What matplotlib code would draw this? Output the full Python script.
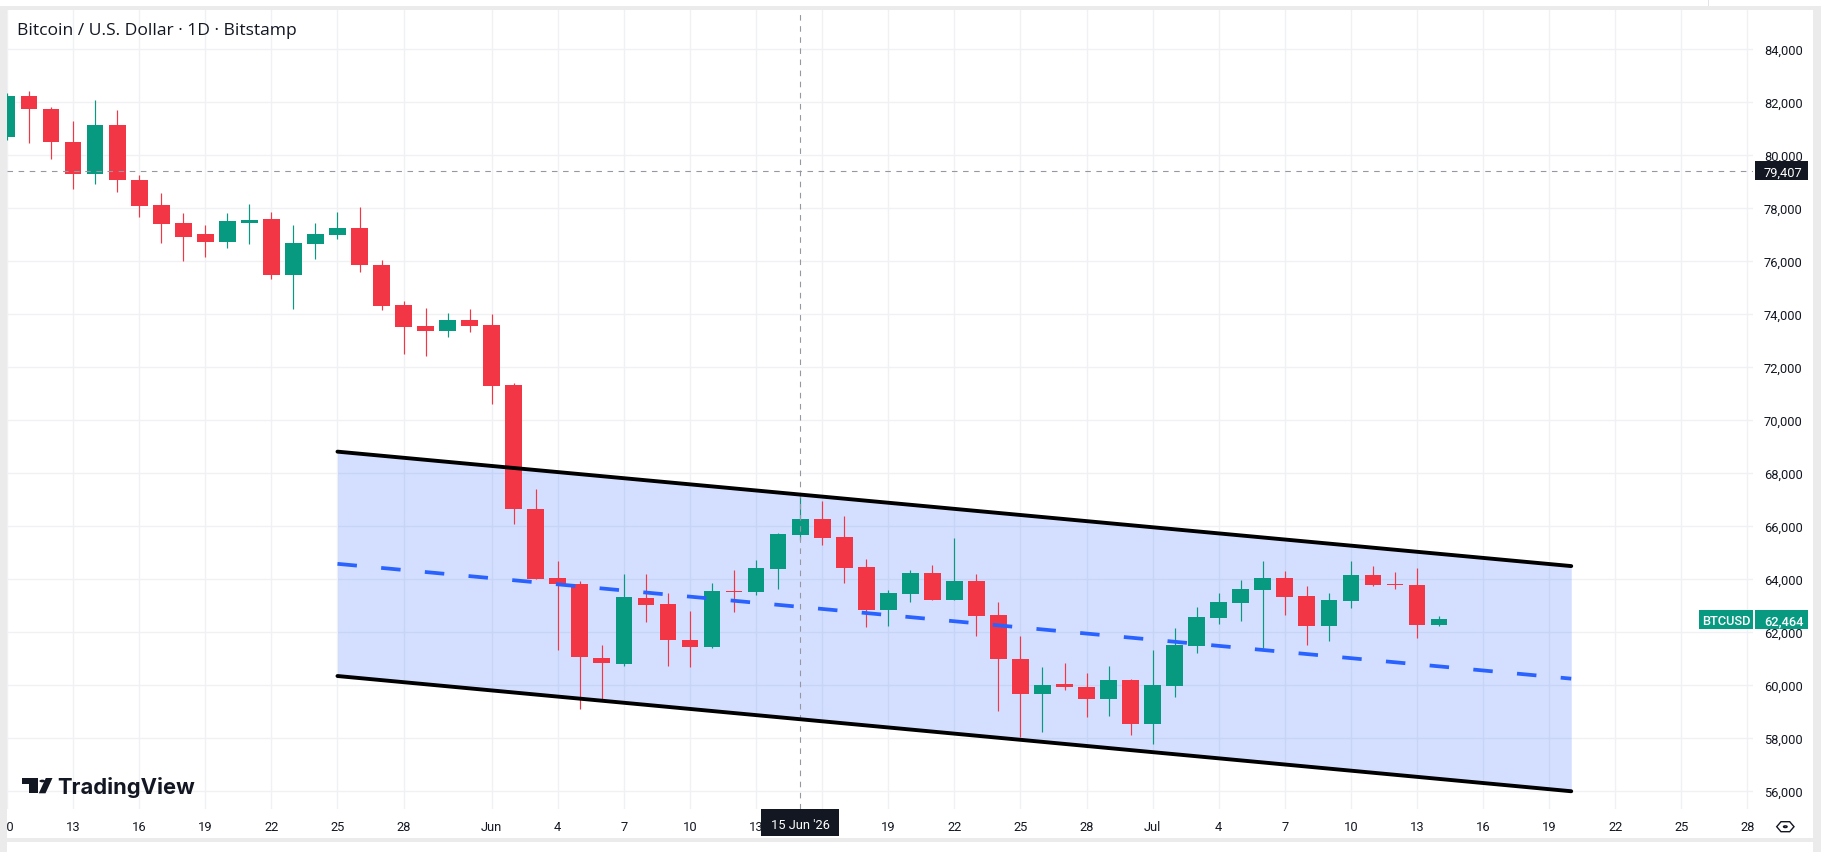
import numpy as np
import pandas as pd
import matplotlib
matplotlib.use("Agg")
import matplotlib.pyplot as plt
import matplotlib.dates as mdates
from matplotlib.patches import Rectangle, Polygon, Circle

W, H = 1821, 853

# daily candles, BTC/USD (Bitstamp), 10 May - 14 Jul 2026
dates = pd.date_range("2026-05-10", "2026-07-14", freq="D")
opens = [80670, 82210, 81730, 80490, 79275, 81115, 79070, 78120, 77450, 77000,
         76730, 77450, 77600, 75450, 76655, 76960, 77260, 75860, 74346, 73550,
         73360, 73780, 73590, 71316, 66650, 64037, 63811, 61018, 60792, 63282,
         63056, 61697, 61408, 63547, 63509, 64377, 65660, 66264, 65584, 64452,
         62829, 63433, 64226, 63207, 63924, 62641, 60990, 59670, 60045, 59930,
         59458, 60163, 58515, 59949, 61458, 62515, 63081, 63572, 64012, 63333,
         62213, 63157, 64125, 63786, 63748, 62251]
highs = [82350, 82400, 81810, 81300, 82060, 81680, 79240, 78580, 77790, 77370,
         77790, 78130, 77830, 77340, 77450, 77865, 78020, 76050, 74500, 74230,
         74045, 74195, 74005, 71400, 67405, 64680, 63924, 61509, 64188, 64188,
         63471, 62792, 63849, 64339, 64716, 65735, 67207, 66943, 66377, 64754,
         63584, 64339, 64528, 65547, 64188, 63131, 61855, 60653, 60835, 60460,
         60691, 60200, 61295, 62125, 62918, 63446, 63937, 64654, 64276, 63710,
         63446, 64654, 64465, 64239, 64390, 62578]
lows = [80550, 80435, 79830, 78730, 78920, 78620, 77640, 76690, 76010, 76130,
        76470, 76655, 75300, 74190, 76060, 76845, 75600, 74160, 72490, 72415,
        73135, 73320, 70600, 66080, 63990, 61320, 59093, 59471, 60716, 62377,
        60716, 60678, 61380, 62754, 63396, 63622, 65471, 65283, 63849, 62188,
        62226, 63131, 63190, 63190, 61848, 59018, 58040, 58230, 59790, 58800,
        58817, 58099, 57760, 59534, 61194, 62289, 62402, 61370, 62628, 61496,
        61647, 62893, 63740, 63597, 61748, 62213]
closes = [82210, 81730, 80490, 79275, 81115, 79040, 78090, 77410, 76920, 76730,
          77490, 77560, 75450, 76690, 77000, 77260, 75830, 74310, 73510, 73360,
          73780, 73550, 71280, 66625, 64000, 63785, 61031, 60829, 63320, 63018,
          61672, 61408, 63547, 63509, 64415, 65698, 66264, 65559, 64415, 62829,
          63471, 64226, 63207, 63924, 62603, 60955, 59670, 60005, 59900, 59445,
          60163, 58515, 59974, 61484, 62540, 63106, 63597, 64012, 63308, 62213,
          63182, 64125, 63760, 63760, 62251, 62464]

# descending parallel channel drawn on the chart
channel_dates = ["2026-05-25", "2026-07-20"]
channel_upper = [68800, 64480]
channel_lower = [60330, 55980]

cross_date = "2026-06-15"
cross_label = "15 Jun '26"
cross_price = 79407
last_price = 62464
symbol = "BTCUSD"
title = "Bitcoin / U.S. Dollar \u00b7 1D \u00b7 Bitstamp"

price_ticks = [56000, 58000, 60000, 62000, 64000, 66000, 68000, 70000,
               72000, 74000, 76000, 78000, 80000, 82000, 84000]
tick_dates = ["2026-05-10", "2026-05-13", "2026-05-16", "2026-05-19", "2026-05-22",
              "2026-05-25", "2026-05-28", "2026-06-01", "2026-06-04", "2026-06-07",
              "2026-06-10", "2026-06-13", "2026-06-16", "2026-06-19", "2026-06-22",
              "2026-06-25", "2026-06-28", "2026-07-01", "2026-07-04", "2026-07-07",
              "2026-07-10", "2026-07-13", "2026-07-16", "2026-07-19", "2026-07-22",
              "2026-07-25", "2026-07-28"]
tick_labels = ["10", "13", "16", "19", "22", "25", "28", "Jun", "4", "7",
               "10", "13", "16", "19", "22", "25", "28", "Jul", "4", "7",
               "10", "13", "16", "19", "22", "25", "28"]

UP, DOWN = "#089981", "#f23645"
TEXT = "#131722"
GRID = "#f0f1f4"
FRAME = "#ebebeb"
FONT = ["Roboto", "DejaVu Sans"]


def fx(xp):
    return xp / W


def fy(yp):
    return 1 - yp / H


def rect(x0, y0, x1, y1, color, z):
    fig.add_artist(Rectangle((fx(x0), fy(y1)), (x1 - x0) / W, (y1 - y0) / H,
                             transform=fig.transFigure, facecolor=color,
                             edgecolor="none", zorder=z))


fig = plt.figure(figsize=(W / 100, H / 100), dpi=100, facecolor="white")
# pane: x 7..1753 px, y 11..810 px
ax = fig.add_axes([fx(7), fy(810), (1753 - 7) / W, (810 - 11) / H])
ax.set_facecolor("white")
for s in ax.spines.values():
    s.set_visible(False)

base = mdates.date2num(pd.Timestamp("2026-06-01"))
ax.set_xlim(base - 21.94, base + 57.25)
ax.set_ylim(55310, 85472)

xt = [mdates.date2num(pd.Timestamp(d)) for d in tick_dates]
ax.set_xticks(xt)
ax.set_yticks(price_ticks)
ax.tick_params(length=0, labelbottom=False, labelleft=False)
ax.grid(True, color=GRID, linewidth=1.0, zorder=0)
ax.set_axisbelow(True)

# candles
x = mdates.date2num(dates)
o = np.array(opens, float)
c = np.array(closes, float)
colors = [UP if cc >= oo else DOWN for oo, cc in zip(o, c)]
ax.vlines(x, lows, highs, colors=colors, linewidth=0.85, zorder=3)
body_lo = np.minimum(o, c)
body_h = np.maximum(np.abs(c - o), 45)
ax.bar(x, body_h, bottom=body_lo, width=0.76, color=colors, linewidth=0, zorder=4)

# channel
cx = [mdates.date2num(pd.Timestamp(d)) for d in channel_dates]
mid = [(u + l) / 2 for u, l in zip(channel_upper, channel_lower)]
ax.fill_between(cx, channel_lower, channel_upper, color="#2962ff", alpha=0.2,
                linewidth=0, zorder=2)
ax.plot(cx, channel_upper, color="black", lw=2.8, solid_capstyle="round", zorder=6)
ax.plot(cx, channel_lower, color="black", lw=2.8, solid_capstyle="round", zorder=6)
ax.plot(cx, mid, color="#2962ff", lw=2.7, dashes=(5.2, 6.5), dash_capstyle="butt",
        zorder=6)

# crosshair
xc = mdates.date2num(pd.Timestamp(cross_date))
ax.axvline(xc, color="#9598a1", lw=0.8, dashes=(5, 5), zorder=5)
ax.axhline(cross_price, color="#9598a1", lw=0.8, dashes=(5, 5), zorder=5)


def px_y(price):
    return H - ax.transData.transform((ax.get_xlim()[0], price))[1]


def px_x(xv):
    return ax.transData.transform((xv, ax.get_ylim()[0]))[0]


# price axis labels
for p in price_ticks:
    fig.text(fx(1764), fy(px_y(p)), f"{p:,}", ha="left", va="center_baseline",
             fontsize=9.3, color=TEXT, family=FONT, zorder=3)

# crosshair date label box (hides the time labels beneath it)
xcp = px_x(xc)
box_l, box_r = xcp - 39, xcp + 39

# time axis labels
for xv, lab in zip(xt, tick_labels):
    xp = px_x(xv)
    if box_l - 4 < xp < box_r + 4:
        continue
    fig.text(fx(xp), fy(826), lab, ha="center", va="center_baseline",
             fontsize=9.3, color=TEXT, family=FONT, zorder=3)

rect(box_l, 810, box_r, 837, TEXT, 4)
fig.text(fx(xcp), fy(824), cross_label, ha="center", va="center_baseline",
         fontsize=9.3, color="white", family=FONT, zorder=5)

# crosshair price label
yc = px_y(cross_price)
rect(1755, yc - 9.5, 1808, yc + 9.5, TEXT, 4)
fig.text(fx(1764), fy(yc), f"{cross_price:,}", ha="left", va="center_baseline",
         fontsize=9.3, color="white", family=FONT, zorder=5)

# last price label
yl = px_y(last_price)
rect(1699, yl - 9.3, 1753, yl + 9.3, UP, 4)
rect(1755, yl - 9.3, 1808, yl + 9.3, UP, 4)
fig.text(fx(1726), fy(yl), symbol, ha="center", va="center_baseline",
         fontsize=9.3, color="white", family=FONT, weight="medium", zorder=5)
fig.text(fx(1764), fy(yl), f"{last_price:,}", ha="left", va="center_baseline",
         fontsize=9.3, color="white", family=FONT, weight="medium", zorder=5)

# title
fig.text(fx(17), fy(29), title, ha="left", va="center_baseline", fontsize=12.6,
         color=TEXT, family=["Open Sans", "DejaVu Sans"], zorder=3)

# TradingView watermark
fig.add_artist(Polygon([(fx(21.7), fy(779)), (fx(37.5), fy(779)), (fx(37.5), fy(794.3)),
                        (fx(29.5), fy(794.3)), (fx(29.5), fy(784.8)), (fx(21.7), fy(784.8))],
                       closed=True, transform=fig.transFigure, facecolor=TEXT,
                       edgecolor="none", zorder=3))
fig.add_artist(Circle((fx(42.3), fy(782)), 2.9 / W, transform=fig.transFigure,
                      facecolor=TEXT, edgecolor="none", zorder=3))
fig.add_artist(Polygon([(fx(45.8), fy(779)), (fx(52.5), fy(779)), (fx(45.5), fy(794.3)),
                        (fx(38.8), fy(794.3))],
                       closed=True, transform=fig.transFigure, facecolor=TEXT,
                       edgecolor="none", zorder=3))
fig.text(fx(57), fy(794), "TradingView", ha="left", va="baseline", fontsize=15.8,
         weight="bold", color=TEXT, family=["Inter", "DejaVu Sans"], zorder=3)

# settings icon
hexpts = [(1776.7, 827.7), (1781, 822.7), (1789.7, 822.7), (1794, 827.7),
          (1789.7, 832.7), (1781, 832.7)]
fig.add_artist(Polygon([(fx(a), fy(b)) for a, b in hexpts], closed=True,
                       transform=fig.transFigure, facecolor="none", edgecolor=TEXT,
                       linewidth=1.0, zorder=3))
fig.add_artist(Circle((fx(1785.3), fy(827.7)), 1.8 / W, transform=fig.transFigure,
                      facecolor="none", edgecolor=TEXT, linewidth=1.0, zorder=3))

# layout frame
rect(0, 6.7, W, 11, FRAME, 10)
rect(0, 6.7, 7, H, FRAME, 10)
rect(1813, 6.7, W, H, FRAME, 10)
rect(0, 839, W, 843, FRAME, 10)
rect(1707.5, 0, 1708.5, 6.7, "#e0e3eb", 10)

fig.savefig("out.png", dpi=100)
